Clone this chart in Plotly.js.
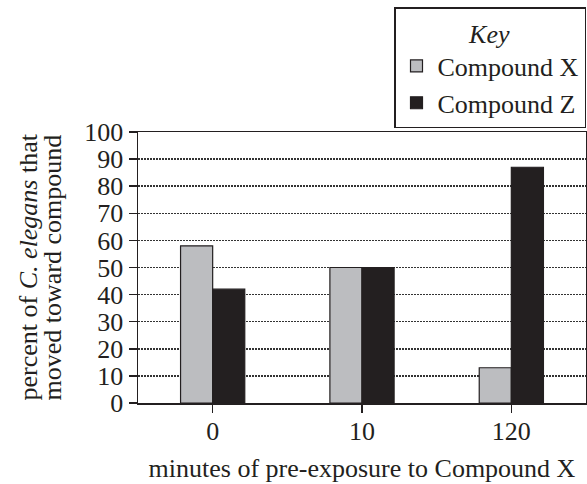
<!DOCTYPE html>
<html>
<head>
<meta charset="utf-8">
<script src="https://cdn.plot.ly/plotly-3.0.1.min.js"></script>
<style>html,body{margin:0;padding:0;background:#fff;}#chart{width:587px;height:484px;}</style>
</head>
<body>
<div id="chart"></div>
<script>
const categories = ['0', '10', '120'];
const compoundX = [58, 50, 13];
const compoundZ = [42, 50, 87];
const yTicks = [0, 10, 20, 30, 40, 50, 60, 70, 80, 90, 100];
const yTitleLines = ['percent of <i>C. elegans</i> that', 'moved toward compound'];

const ink = '#231f20';
const font = {family: '"Liberation Serif", "Times New Roman", serif', size: 26, color: ink};

const data = [
  {type: 'bar', name: 'Compound X', x: categories, y: compoundX,
   marker: {color: '#bcbdc0', line: {color: ink, width: 1.2}}},
  {type: 'bar', name: 'Compound Z', x: categories, y: compoundZ,
   marker: {color: ink, line: {color: ink, width: 1.2}}}
];

const layout = {
  width: 587, height: 484,
  margin: {l: 138, r: 1, t: 132, b: 81},
  paper_bgcolor: '#fff', plot_bgcolor: '#fff',
  font: font,
  barmode: 'group',
  bargap: 0.57,
  bargroupgap: 0,
  showlegend: true,
  legend: {
    x: 1, xanchor: 'right', xref: 'paper',
    y: 0.985, yanchor: 'top', yref: 'container',
    bordercolor: ink, borderwidth: 1.5, bgcolor: '#fff',
    title: {text: '<i>Key</i>', side: 'top center', font: font},
    font: font, tracegroupgap: 0, itemwidth: 32
  },
  xaxis: {
    type: 'category', range: [-0.5, 2.5],
    showline: true, linecolor: ink, linewidth: 1.5, mirror: true,
    ticks: 'outside', ticklen: 8, tickwidth: 1.5, tickcolor: ink,
    ticklabelstandoff: -4,
    showgrid: false, zeroline: false,
    tickfont: font,
    title: {text: 'minutes of pre-exposure to Compound X', font: font, standoff: 14}
  },
  yaxis: {
    range: [0, 100], tickvals: yTicks, ticktext: yTicks.map(String),
    showline: true, linecolor: ink, linewidth: 1.5, mirror: true,
    ticks: 'outside', ticklen: 8, tickwidth: 1.5, tickcolor: ink,
    showgrid: true, gridcolor: '#333', gridwidth: 1.5, griddash: '1.5px,1.5px',
    zeroline: false, tickfont: font
  },
  annotations: yTitleLines.map((t, i) => ({
    text: t, textangle: -90, font: font, showarrow: false,
    xref: 'paper', yref: 'paper', x: 0, y: 0.5,
    xanchor: 'center', yanchor: 'middle',
    xshift: i === 0 ? -110 : -86
  }))
};

Plotly.newPlot('chart', data, layout, {displayModeBar: false, staticPlot: true});
</script>
</body>
</html>
